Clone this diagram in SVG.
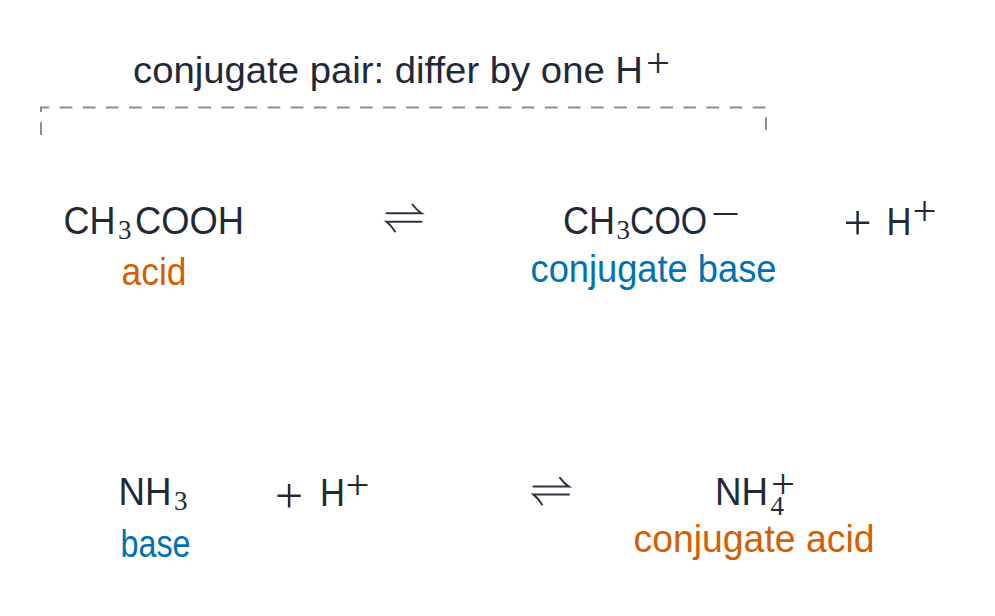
<svg xmlns="http://www.w3.org/2000/svg" width="995" height="616" viewBox="0 0 995 616">
<style>
  .t { font-family: "Liberation Sans", Arial, sans-serif; font-size: 38px; fill: #1f2937; }
  .ttl { font-family: "Liberation Sans", Arial, sans-serif; font-size: 36px; fill: #1f2937; }
  .m { font-family: "Liberation Serif", "Times New Roman", serif; }
  .sub { font-size: 27px; }
  .op { font-size: 50px; }
  .sup { font-size: 42px; }
  .acid { fill: #d55e00; }
  .base { fill: #0072b2; }
  .pair { fill: none; stroke: #8a8d93; stroke-width: 2; stroke-dasharray: 12.7 10.4; }
  .harp { fill: none; stroke: #2d3440; stroke-width: 2; stroke-linecap: round; }
</style>
<rect width="995" height="616" fill="#ffffff"/>

<g id="connectors">
  <path class="pair" d="M41,135 V107.5 H766 V131"/>
  <g id="arrow-1">
    <path class="harp" d="M386.5,213.3 H421.5 Q416.5,210 412.5,204.5"/>
    <path class="harp" d="M421.5,221.7 H386.5 Q391.5,225.5 395,231.5"/>
  </g>
  <g id="arrow-2">
    <path class="harp" d="M533.5,486.6 H569 Q564,483.3 560,477.8"/>
    <path class="harp" d="M569,494.6 H533.5 Q538.5,498.4 542,504.4"/>
  </g>
</g>

<g id="title">
  <text class="ttl" y="83"><tspan x="133" textLength="510" lengthAdjust="spacingAndGlyphs">conjugate pair: differ by one H</tspan><tspan class="m sup" x="646" y="77" textLength="24" lengthAdjust="spacingAndGlyphs">+</tspan></text>
</g>

<g id="node-ch3cooh">
  <text class="t" y="233.5"><tspan x="63.5" textLength="52" lengthAdjust="spacingAndGlyphs">CH</tspan><tspan class="m sub" x="118" y="238.5">3</tspan><tspan x="135" y="233.5" textLength="109" lengthAdjust="spacingAndGlyphs">COOH</tspan></text>
  <text class="t acid" x="121.5" y="285" textLength="65" lengthAdjust="spacingAndGlyphs">acid</text>
</g>

<g id="node-ch3coo">
  <text class="t" y="233.5"><tspan x="563" textLength="52" lengthAdjust="spacingAndGlyphs">CH</tspan><tspan class="m sub" x="616.5" y="238.5">3</tspan><tspan x="630" y="233.5" textLength="77" lengthAdjust="spacingAndGlyphs">COO</tspan><tspan class="m sup" x="711" y="228" textLength="29" lengthAdjust="spacingAndGlyphs">−</tspan></text>
  <text class="t base" x="530.5" y="281.5" textLength="246" lengthAdjust="spacingAndGlyphs">conjugate base</text>
</g>

<g id="node-hplus-1">
  <text class="t" y="235"><tspan class="m op" x="843.5" y="240">+</tspan><tspan x="886.5" y="235" textLength="25" lengthAdjust="spacingAndGlyphs">H</tspan><tspan class="m sup" x="912.5" y="225" textLength="24" lengthAdjust="spacingAndGlyphs">+</tspan></text>
</g>

<g id="node-nh3">
  <text class="t" y="504.5"><tspan x="118.5" textLength="53" lengthAdjust="spacingAndGlyphs">NH</tspan><tspan class="m sub" x="174" y="510">3</tspan></text>
  <text class="t base" x="120.5" y="556.7" textLength="70" lengthAdjust="spacingAndGlyphs">base</text>
</g>

<g id="node-hplus-2">
  <text class="t" y="506"><tspan class="m op" x="275" y="513">+</tspan><tspan x="320" y="506" textLength="25" lengthAdjust="spacingAndGlyphs">H</tspan><tspan class="m sup" x="345.5" y="499" textLength="24" lengthAdjust="spacingAndGlyphs">+</tspan></text>
</g>

<g id="node-nh4">
  <text class="t" y="505"><tspan x="715" textLength="53" lengthAdjust="spacingAndGlyphs">NH</tspan><tspan class="m sub" x="770.5" y="515">4</tspan><tspan class="m sup" x="771" y="497.5" textLength="24" lengthAdjust="spacingAndGlyphs">+</tspan></text>
  <text class="t acid" x="633.5" y="551.7" textLength="241" lengthAdjust="spacingAndGlyphs">conjugate acid</text>
</g>
</svg>
